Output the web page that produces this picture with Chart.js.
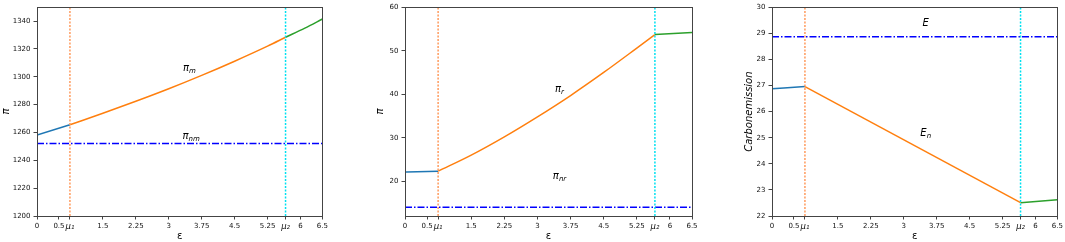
<!DOCTYPE html>
<html>
<head>
<meta charset="utf-8">
<script src="https://cdn.jsdelivr.net/npm/chart.js@4.4.0/dist/chart.umd.min.js"></script>
<style>
  body { margin: 0; background: #fff; width: 1065px; height: 242px; overflow: hidden; position: relative; }
  canvas { position: absolute; top: 0; }
</style>
</head>
<body>
<canvas id="c1" width="330" height="242" style="left:0px"></canvas>
<canvas id="c2" width="340" height="242" style="left:360px"></canvas>
<canvas id="c3" width="335" height="242" style="left:730px"></canvas>
<script>
// thresholds on the epsilon axis
const mu1 = 0.75;
const mu2 = 5.66;
const xTicks = [0, 0.5, mu1, 1.5, 2.25, 3, 3.75, 4.5, 5.25, mu2, 6, 6.5];
const xTickLabels = ['0', '0.5', 'μ₁', '1.5', '2.25', '3', '3.75', '4.5', '5.25', 'μ₂', '6', '6.5'];

// panel 1 : manufacturer profit
const pmBlueX = [0, 0.75];
const pmBlueY = [1258.2, 1265.5];
const pmOrangeX = [0.75, 1.5, 2.25, 3, 3.75, 4.5, 5.25, 5.66];
const pmOrangeY = [1265.5, 1273.8, 1282.4, 1291.4, 1301.0, 1311.2, 1322.0, 1328.4];
const pmGreenX = [5.66, 6.1, 6.5];
const pmGreenY = [1328.4, 1335.0, 1341.5];
const piNm = 1252;
const yTicks1 = [1200, 1220, 1240, 1260, 1280, 1300, 1320, 1340];

// panel 2 : retailer profit
const prBlueX = [0, 0.75];
const prBlueY = [22.1, 22.3];
const prOrangeX = [0.75, 1.5, 2.25, 3, 3.75, 4.5, 5.25, 5.66];
const prOrangeY = [22.3, 26.0, 30.2, 34.8, 39.7, 45.0, 50.6, 53.7];
const prGreenX = [5.66, 6.5];
const prGreenY = [53.7, 54.2];
const piNr = 14.0;
const yTicks2 = [20, 30, 40, 50, 60];

// panel 3 : carbon emission
const emBlueX = [0, 0.75];
const emBlueY = [26.88, 26.96];
const emOrangeX = [0.75, 5.66];
const emOrangeY = [26.96, 22.51];
const emGreenX = [5.66, 6.5];
const emGreenY = [22.51, 22.62];
const eLine = 28.87;
const yTicks3 = [22, 23, 24, 25, 26, 27, 28, 29, 30];

const pts = (xs, ys) => xs.map((x, i) => ({ x: x, y: ys[i] }));

function curve(xs, ys, color) {
  return { data: pts(xs, ys), borderColor: color, borderWidth: 1.5, pointRadius: 0,
           cubicInterpolationMode: 'monotone', fill: false };
}
function hline(v, color) {
  return { data: pts([0, 6.5], [v, v]), borderColor: color, borderWidth: 1.5, pointRadius: 0,
           borderDash: [7, 2, 1.5, 2], fill: false };
}
function vline(v, lo, hi, color) {
  return { data: pts([v, v], [lo, hi]), borderColor: color, borderWidth: 1.5, pointRadius: 0,
           borderDash: [2, 1.5], fill: false };
}

const frame = {
  id: 'frame',
  afterDraw(chart) {
    const a = chart.chartArea, ctx = chart.ctx;
    ctx.save();
    ctx.strokeStyle = '#444';
    ctx.lineWidth = 1;
    ctx.strokeRect(Math.round(a.left) + 0.5, Math.round(a.top) + 0.5,
                   Math.round(a.right - a.left), Math.round(a.bottom - a.top));
    ctx.restore();
  }
};

const notes = {
  id: 'notes',
  afterDatasetsDraw(chart, args, opts) {
    const ctx = chart.ctx, sx = chart.scales.x, sy = chart.scales.y;
    (opts.items || []).forEach(n => {
      const px = sx.getPixelForValue(n.x), py = sy.getPixelForValue(n.y);
      ctx.save();
      ctx.fillStyle = '#000';
      ctx.textBaseline = 'alphabetic';
      ctx.font = 'italic 10px "DejaVu Sans"';
      const w1 = ctx.measureText(n.base).width;
      ctx.font = 'italic 7px "DejaVu Sans"';
      const w2 = ctx.measureText(n.sub).width;
      const x0 = px - (w1 + w2) / 2;
      ctx.font = 'italic 10px "DejaVu Sans"';
      ctx.fillText(n.base, x0, py + 4);
      ctx.font = 'italic 7px "DejaVu Sans"';
      ctx.fillText(n.sub, x0 + w1, py + 6);
      ctx.restore();
    });
  }
};

function makeChart(id, datasets, yMin, yMax, yTicks, yTitle, yTitleFont, yTitlePad, yWidth, rightPad, items) {
  return new Chart(document.getElementById(id), {
    type: 'line',
    data: { datasets: datasets },
    plugins: [frame, notes],
    options: {
      responsive: false,
      animation: false,
      layout: { padding: { top: 4.5, right: rightPad, bottom: 0, left: 0 } },
      plugins: { legend: { display: false }, tooltip: { enabled: false }, notes: { items: items } },
      scales: {
        x: {
          type: 'linear', min: 0, max: 6.5,
          afterBuildTicks: s => { s.ticks = xTicks.map(v => ({ value: v })); },
          afterFit: s => { s.height = 26; },
          ticks: { autoSkip: false, maxRotation: 0, padding: 2, color: '#111',
                   font: c => (c.index === 2 || c.index === 9)
                     ? { family: 'DejaVu Sans', size: 8.5, style: 'italic' }
                     : { family: 'DejaVu Sans', size: 7 },
                   callback: (v, i) => xTickLabels[i] },
          grid: { drawOnChartArea: false, drawTicks: true, tickLength: 3.5, color: '#444' },
          border: { color: '#444' },
          title: { display: true, text: 'ε', color: '#000', padding: 0,
                   font: { family: 'DejaVu Sans', size: 10 } }
        },
        y: {
          type: 'linear', min: yMin, max: yMax,
          afterBuildTicks: s => { s.ticks = yTicks.map(v => ({ value: v })); },
          afterFit: s => { s.width = yWidth; },
          ticks: { padding: 3, color: '#111', font: { family: 'DejaVu Sans', size: 7 },
                   callback: v => String(v) },
          grid: { drawOnChartArea: false, drawTicks: true, tickLength: 3.5, color: '#444' },
          border: { color: '#444' },
          title: { display: true, text: yTitle, color: '#000', padding: { top: yTitlePad, bottom: 0 },
                   font: yTitleFont }
        }
      }
    }
  });
}

const blue = '#1f77b4', orange = '#ff7f0e', green = '#2ca02c';
const muLine1 = '#ff9a5c', muLine2 = '#00e1f0', refLine = '#0000ff';

makeChart('c1', [
  vline(mu1, 1200, 1350, muLine1),
  vline(mu2, 1200, 1350, muLine2),
  hline(piNm, refLine),
  curve(pmBlueX, pmBlueY, blue),
  curve(pmOrangeX, pmOrangeY, orange),
  curve(pmGreenX, pmGreenY, green)
], 1200, 1350, yTicks1, 'π', { family: 'DejaVu Sans', size: 10, style: 'italic' }, 0, 37, 7, [
  { x: 3.47, y: 1306.8, base: 'π', sub: 'm' },
  { x: 3.51, y: 1258.4, base: 'π', sub: 'nm' }
]);

makeChart('c2', [
  vline(mu1, 12, 60, muLine1),
  vline(mu2, 12, 60, muLine2),
  hline(piNr, refLine),
  curve(prBlueX, prBlueY, blue),
  curve(prOrangeX, prOrangeY, orange),
  curve(prGreenX, prGreenY, green)
], 12, 60, yTicks2, 'π', { family: 'DejaVu Sans', size: 10, style: 'italic' }, 14, 45, 8, [
  { x: 3.5, y: 41.4, base: 'π', sub: 'r' },
  { x: 3.5, y: 21.4, base: 'π', sub: 'nr' }
]);

makeChart('c3', [
  vline(mu1, 22, 30, muLine1),
  vline(mu2, 22, 30, muLine2),
  hline(eLine, refLine),
  curve(emBlueX, emBlueY, blue),
  curve(emOrangeX, emOrangeY, orange),
  curve(emGreenX, emGreenY, green)
], 22, 30, yTicks3, 'Carbonemission', { family: 'DejaVu Sans', size: 10, style: 'italic' }, 13, 42, 6, [
  { x: 3.5, y: 29.45, base: 'E', sub: '' },
  { x: 3.5, y: 25.2, base: 'E', sub: 'n' }
]);
</script>
</body>
</html>
